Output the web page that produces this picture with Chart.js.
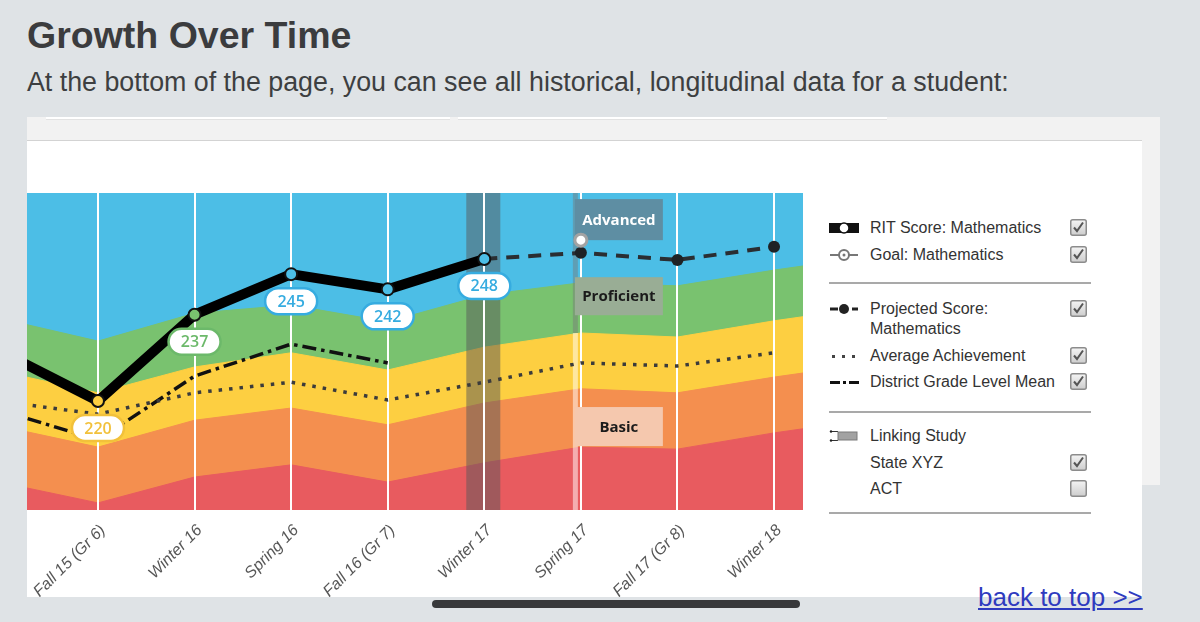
<!DOCTYPE html>
<html lang="en">
<head>
<meta charset="UTF-8">
<title>Growth Over Time</title>
<script src="https://cdn.jsdelivr.net/npm/chart.js"></script>
<style>
  body {
    margin: 0;
    width: 1200px;
    height: 622px;
    overflow: hidden;
    position: relative;
    background: #dfe3e6;
    font-family: "Liberation Sans", Arial, sans-serif;
  }
  h1 {
    position: absolute; left: 27px; top: 17px; margin: 0;
    font-size: 37.5px; line-height: 37px; font-weight: bold; color: #3b3c3e;
  }
  .intro {
    position: absolute; left: 27px; top: 69px; margin: 0;
    font-size: 26.8px; line-height: 27px; color: #3d3f41;
  }
  .panel { position: absolute; left: 27px; top: 117px; width: 1133px; height: 368px; background: #f2f2f2; }
  .field { position: absolute; top: 117px; height: 2px; background: #fff; border-bottom: 1px solid #e2e2e2; }
  .card {
    position: absolute; left: 27px; top: 140px; width: 1115px; height: 457px;
    background: #fff; border-top: 1px solid #d3d3d3; box-sizing: border-box;
  }
  #chartBox { position: absolute; left: 27px; top: 141px; width: 776px; height: 456px; }
  .row { position: absolute; left: 829px; width: 262px; height: 20px; font-size: 16px; line-height: 20px; color: #333; }
  .row svg.sym { position: absolute; left: 0; top: 3px; }
  .row span { position: absolute; left: 41px; white-space: nowrap; }
  .row svg.box { position: absolute; left: 241px; top: 1px; }
  .sep { position: absolute; left: 829px; width: 262px; height: 0; border-top: 2px solid #a9a9a9; }
  .scrollbar { position: absolute; left: 432px; top: 600px; width: 368px; height: 8px; border-radius: 4px; background: #38393b; }
  .back {
    position: absolute; left: 978px; top: 582px; font-size: 26px; line-height: 30px;
    color: #2f3bbf; text-decoration: underline;
  }
</style>
</head>
<body>
  <h1>Growth Over Time</h1>
  <p class="intro">At the bottom of the page, you can see all historical, longitudinal data for a student:</p>

  <div class="panel"></div>
  <div class="field" style="left:46px; width:404px;"></div>
  <div class="field" style="left:458px; width:429px;"></div>
  <div class="card"></div>
  <div id="chartBox"><canvas id="growthChart"></canvas></div>

  <!-- legend -->
  <div class="row" style="top:218px;">
    <svg class="sym" width="32" height="14"><rect x="0" y="2" width="30" height="10" fill="#111"/><circle cx="15" cy="7" r="5" fill="#fff" stroke="#111" stroke-width="1.5"/></svg>
    <span>RIT Score: Mathematics</span>
    <svg class="box" width="17" height="17"><use href="#checkOn"/></svg>
  </div>
  <div class="row" style="top:245px;">
    <svg class="sym" width="32" height="14"><line x1="1" y1="7" x2="29" y2="7" stroke="#777" stroke-width="2"/><circle cx="15" cy="7" r="5" fill="#fff" stroke="#777" stroke-width="2"/><circle cx="15" cy="7" r="1.5" fill="#777"/></svg>
    <span>Goal: Mathematics</span>
    <svg class="box" width="17" height="17"><use href="#checkOn"/></svg>
  </div>
  <div class="sep" style="top:282px;"></div>
  <div class="row" style="top:299px; height:40px;">
    <svg class="sym" width="32" height="14"><line x1="1" y1="7" x2="9" y2="7" stroke="#222" stroke-width="3"/><line x1="23" y1="7" x2="29" y2="7" stroke="#222" stroke-width="3"/><circle cx="15" cy="7" r="5" fill="#222"/></svg>
    <span>Projected Score:<br>Mathematics</span>
    <svg class="box" width="17" height="17"><use href="#checkOn"/></svg>
  </div>
  <div class="row" style="top:346px;">
    <svg class="sym" width="32" height="14"><rect x="3" y="6" width="3" height="3" fill="#444"/><rect x="13" y="6" width="3" height="3" fill="#444"/><rect x="23" y="6" width="3" height="3" fill="#444"/></svg>
    <span>Average Achievement</span>
    <svg class="box" width="17" height="17"><use href="#checkOn"/></svg>
  </div>
  <div class="row" style="top:372px;">
    <svg class="sym" width="32" height="14"><rect x="1" y="6" width="10" height="3" fill="#111"/><rect x="14" y="6" width="3" height="3" fill="#111"/><rect x="20" y="6" width="10" height="3" fill="#111"/></svg>
    <span>District Grade Level Mean</span>
    <svg class="box" width="17" height="17"><use href="#checkOn"/></svg>
  </div>
  <div class="sep" style="top:411px;"></div>
  <div class="row" style="top:426px;">
    <svg class="sym" width="32" height="14"><line x1="2" y1="2.5" x2="9" y2="2.5" stroke="#333" stroke-width="1"/><line x1="2" y1="11.5" x2="9" y2="11.5" stroke="#333" stroke-width="1"/><circle cx="2" cy="2.5" r="1.2" fill="#222"/><circle cx="2" cy="11.5" r="1.2" fill="#222"/><rect x="9" y="3" width="19" height="8" fill="#a2a2a2" stroke="#7a7a7a"/></svg>
    <span>Linking Study</span>
  </div>
  <div class="row" style="top:453px;">
    <span>State XYZ</span>
    <svg class="box" width="17" height="17"><use href="#checkOn"/></svg>
  </div>
  <div class="row" style="top:479px;">
    <span>ACT</span>
    <svg class="box" width="17" height="17"><use href="#checkOff"/></svg>
  </div>
  <div class="sep" style="top:512px;"></div>

  <svg width="0" height="0" style="position:absolute">
    <defs>
      <linearGradient id="boxGrad" x1="0" y1="0" x2="0" y2="1">
        <stop offset="0" stop-color="#f4f4f4"/><stop offset="1" stop-color="#cdcdcd"/>
      </linearGradient>
      <g id="checkOff"><rect x="0.75" y="0.75" width="15.5" height="15.5" rx="2" fill="url(#boxGrad)" stroke="#8c8c8c" stroke-width="1.5"/></g>
      <g id="checkOn"><use href="#checkOff"/><path d="M4 8.5 L7 12 L13 3.5" fill="none" stroke="#555" stroke-width="2"/></g>
    </defs>
  </svg>

  <div class="scrollbar"></div>
  <div class="back">back to top &gt;&gt;</div>

<script>
  // terms: first and last are just outside the visible window
  const terms = ['Spring 15', 'Fall 15 (Gr 6)', 'Winter 16', 'Spring 16', 'Fall 16 (Gr 7)',
                 'Winter 17', 'Spring 17', 'Fall 17 (Gr 8)', 'Winter 18', 'Spring 18'];

  const ritScores = [229.7, 220, 237, 245, 242, 248, null, null, null, null];
  const goalScores = [null, null, null, null, null, null, 251.7, null, null, null];
  const projectedScores = [null, null, null, null, null, 248, 249.2, 247.8, 250.4, null];
  const averageAchievement = [219.9, 217.4, 221.6, 223.7, 220.2, 223.7, 227.5, 226.9, 229.5, null];
  const districtMean = [218.1, 212.3, 224.9, 231.2, 227.5, null, null, null, null, null];

  // achievement band tops (RIT)
  const hiAvgTop = [236.2, 231.8, 237.3, 238.9, 235.6, 240.9, 243.3, 242.7, 245.8, 248.5];
  const avgTop   = [225.8, 221.6, 226.7, 229.5, 226.1, 230.6, 233.4, 232.6, 235.8, 238.5];
  const loAvgTop = [215.0, 210.9, 216.2, 218.6, 215.3, 219.6, 222.4, 221.6, 224.7, 227.4];
  const lowTop   = [203.9, 199.9, 205.0, 207.4, 204.0, 207.8, 210.9, 210.5, 213.7, 216.4];

  const BLUE = '#4cbee6', GREEN = '#79c26f', YELLOW = '#fdcf41', ORANGE = '#f48f4f', RED = '#e85b5f';
  const ritPointColors = [GREEN, YELLOW, GREEN, BLUE, BLUE, BLUE];
  const ritLabelColors = [null, '#f2c13b', '#6cb96a', '#36ace0', '#36ace0', '#36ace0'];

  const WINTER17 = 4, SPRING17 = 5;

  function band(label, data, color) {
    return {
      label, data, fill: 'start', backgroundColor: color, borderColor: color,
      borderWidth: 1, pointRadius: 0, tension: 0
    };
  }

  const overlays = {
    id: 'overlays',
    beforeDatasetsDraw(chart) {
      const a = chart.chartArea, ctx = chart.ctx;
      ctx.save();
      ctx.fillStyle = BLUE;
      ctx.fillRect(a.left, a.top, a.right - a.left, a.bottom - a.top);
      ctx.restore();
    },
    afterDatasetDraw(chart, args) {
      if (args.meta.label !== 'Low') return;
      const a = chart.chartArea, ctx = chart.ctx;
      const x = chart.scales.x, y = chart.scales.y;
      ctx.save();
      // linking study columns
      const wx = x.getPixelForValue(WINTER17);
      ctx.fillStyle = 'rgba(88,88,90,0.5)';
      ctx.fillRect(wx - 18, a.top, 34, a.bottom - a.top);
      const sx = x.getPixelForValue(SPRING17);
      const cutY = y.getPixelForValue(avgTop[SPRING17 + 1]);
      ctx.fillStyle = 'rgba(120,120,120,0.45)';
      ctx.fillRect(sx - 8, a.top, 5, cutY - a.top);
      ctx.fillStyle = 'rgba(255,255,255,0.5)';
      ctx.fillRect(sx - 8, cutY, 5, a.bottom - cutY);
      ctx.restore();

      // white term lines over the bands
      x.drawGrid(a);

      ctx.save();
      const boxes = [
        { text: 'Advanced', hi: 259.8, lo: 251.7, fill: '#5e8ea3', color: '#ffffff' },
        { text: 'Proficient', hi: 244.4, lo: 236.9, fill: '#99ad95', color: '#1b1b1b' },
        { text: 'Basic', hi: 218.8, lo: 211.1, fill: '#f5c8ae', color: '#1b1b1b' }
      ];
      ctx.font = 'bold 15px "Open Sans", sans-serif';
      ctx.textAlign = 'center';
      ctx.textBaseline = 'middle';
      boxes.forEach(b => {
        const t = y.getPixelForValue(b.hi), btm = y.getPixelForValue(b.lo);
        ctx.fillStyle = b.fill;
        ctx.fillRect(sx - 6, t, 88, btm - t);
        ctx.fillStyle = b.color;
        ctx.fillText(b.text, sx + 38, (t + btm) / 2 + 1);
      });
      ctx.restore();
    },
    afterDatasetsDraw(chart) {
      const ctx = chart.ctx;
      const meta = chart.getDatasetMeta(0);
      ctx.save();
      ctx.font = '600 16px "Open Sans", sans-serif';
      ctx.textAlign = 'center';
      ctx.textBaseline = 'middle';
      ritScores.forEach((v, i) => {
        if (v === null || !ritLabelColors[i]) return;
        const p = meta.data[i];
        const cx = p.x, cy = p.y + 27;
        ctx.beginPath();
        ctx.roundRect(cx - 26, cy - 13, 52, 26, 13);
        ctx.fillStyle = '#fff';
        ctx.fill();
        ctx.lineWidth = 2.5;
        ctx.strokeStyle = ritLabelColors[i];
        ctx.stroke();
        ctx.fillStyle = ritLabelColors[i];
        ctx.fillText(String(v), cx, cy + 1);
      });
      ctx.restore();
    }
  };

  Chart.defaults.font.family = '"Liberation Sans", Arial, sans-serif';

  const ctx = document.getElementById('growthChart').getContext('2d');
  const growthChart = new Chart(ctx, {
    type: 'line',
    data: {
      labels: terms.map((t, i) => i - 1),
      datasets: [
        {
          label: 'RIT Score: Mathematics', data: ritScores,
          borderColor: '#000', borderWidth: 10, borderJoinStyle: 'round',
          pointRadius: 6, pointBorderWidth: 2, pointBorderColor: '#111',
          pointBackgroundColor: ritPointColors, tension: 0
        },
        {
          label: 'Goal: Mathematics', data: goalScores, showLine: false,
          pointRadius: 6, pointBorderWidth: 3, pointBorderColor: '#a3a3a3', pointBackgroundColor: '#fff'
        },
        {
          label: 'Projected Score: Mathematics', data: projectedScores,
          borderColor: '#2a2e32', borderWidth: 4, borderDash: [13, 9],
          pointRadius: [0, 0, 0, 0, 0, 0, 6, 6, 6, 0], pointBorderWidth: 0,
          pointBackgroundColor: '#1e2225', tension: 0
        },
        {
          label: 'Average Achievement', data: averageAchievement,
          borderColor: '#3b3b3b', borderWidth: 3.5, borderDash: [3.5, 7],
          pointRadius: 0, tension: 0
        },
        {
          label: 'District Grade Level Mean', data: districtMean,
          borderColor: '#111', borderWidth: 3.5, borderDash: [14, 5, 3.5, 5],
          pointRadius: 0, tension: 0
        },
        band('Low', lowTop, RED),
        band('LoAvg', loAvgTop, ORANGE),
        band('Avg', avgTop, YELLOW),
        band('HiAvg', hiAvgTop, GREEN)
      ]
    },
    options: {
      responsive: true,
      maintainAspectRatio: false,
      animation: false,
      events: [],
      layout: { autoPadding: false, padding: { top: 52, left: 0, right: 0, bottom: 0 } },
      plugins: { legend: { display: false }, tooltip: { enabled: false } },
      scales: {
        x: {
          type: 'linear',
          min: -0.735,
          max: 7.3,
          border: { display: false },
          grid: { color: '#ffffff', lineWidth: 2, tickLength: 8 },
          ticks: {
            stepSize: 1,
            includeBounds: false,
            autoSkip: false,
            minRotation: 45,
            maxRotation: 45,
            labelOffset: 5,
            color: '#575757',
            font: { size: 16, style: 'italic' },
            callback: v => terms[v + 1]
          },
          afterFit(scale) {
            scale.height = 87;
            scale.paddingLeft = 0;
            scale.paddingRight = 0;
          }
        },
        y: { display: false, min: 198.5, max: 261 }
      }
    },
    plugins: [overlays]
  });
</script>
</body>
</html>
